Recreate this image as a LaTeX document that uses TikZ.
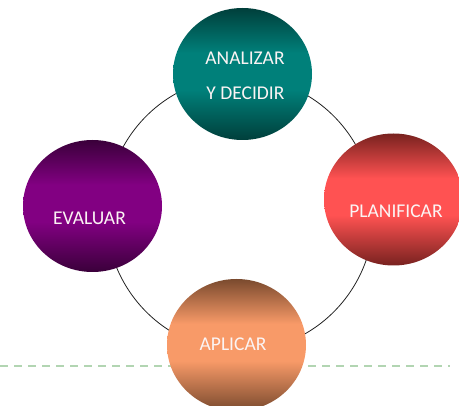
\documentclass[tikz,border=0pt]{standalone}
\usepackage{fontspec}
\setmainfont{Carlito}
\usetikzlibrary{shapes.geometric}
\definecolor{tealdk}{HTML}{003F3B}
\definecolor{tealbr}{HTML}{00807A}
\definecolor{reddk}{HTML}{78221F}
\definecolor{redbr}{HTML}{FF5252}
\definecolor{purdk}{HTML}{3A003A}
\definecolor{purbr}{HTML}{820082}
\definecolor{orgdk}{HTML}{7A4A2E}
\definecolor{orgbr}{HTML}{F89A68}
\definecolor{ringcol}{HTML}{222222}
\definecolor{dashcol}{HTML}{B2D5B2}
\definecolor{txtcol}{HTML}{FBF4F4}
\pgfdeclareverticalshading{tealshade}{100bp}{color(0bp)=(tealdk); color(25bp)=(tealdk); color(44bp)=(tealbr); color(58bp)=(tealbr); color(75bp)=(tealdk); color(100bp)=(tealdk)}
\pgfdeclareverticalshading{redshade}{100bp}{color(0bp)=(reddk); color(25bp)=(reddk); color(44bp)=(redbr); color(58bp)=(redbr); color(75bp)=(reddk); color(100bp)=(reddk)}
\pgfdeclareverticalshading{purshade}{100bp}{color(0bp)=(purdk); color(25bp)=(purdk); color(44bp)=(purbr); color(58bp)=(purbr); color(75bp)=(purdk); color(100bp)=(purdk)}
\pgfdeclareverticalshading{orgshade}{100bp}{color(0bp)=(orgdk); color(25bp)=(orgdk); color(44bp)=(orgbr); color(58bp)=(orgbr); color(75bp)=(orgdk); color(100bp)=(orgdk)}
\tikzset{
  ball/.style={ellipse, minimum width=139pt, minimum height=132pt, inner sep=0pt, shade},
  lbl/.style={anchor=base, text=txtcol, inner sep=0pt, font=\fontsize{19.5}{23}\selectfont},
  ring/.style={draw=ringcol, line width=0.8pt},
  dashline/.style={draw=dashcol, line width=2pt, dash pattern=on 8pt off 6pt}
}
\begin{document}
\begin{tikzpicture}[x=1pt,y=-1pt]
\useasboundingbox (0,0) rectangle (459,406);
\clip (0,0) rectangle (459,406);
\coordinate (dl) at (0,366);
\coordinate (dr) at (450,366);
\draw[dashline] (dl) -- (dr);
\coordinate (rc) at (240,214);
\draw[ring] (rc) ellipse [x radius=134pt, y radius=137pt];
\node[ball, shading=tealshade] (analizar) at (242.5,74) {};
\node[ball, shading=redshade] (planificar) at (393.5,199.5) {};
\node[ball, shading=purshade] (evaluar) at (92.5,206) {};
\node[ball, shading=orgshade] (aplicar) at (236.5,345) {};
\node[lbl] (t1) at (245,64.3) {ANALIZAR};
\node[lbl] (t2) at (245.5,100) {Y DECIDIR};
\node[lbl] (t3) at (396,218) {PLANIFICAR};
\node[lbl] (t4) at (89.5,225) {EVALUAR};
\node[lbl] (t5) at (233,351) {APLICAR};
\end{tikzpicture}
\end{document}
